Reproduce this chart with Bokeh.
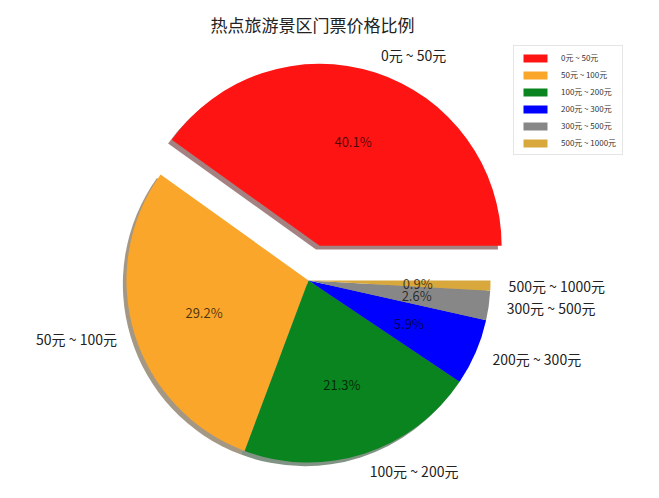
import numpy as np
from bokeh.plotting import figure
from bokeh.models import Range1d, Legend, LegendItem, Label, ColumnDataSource
from bokeh.core.properties import value
from bokeh.embed import file_html
from bokeh.resources import INLINE

# ---- data ----
title_text = "热点旅游景区门票价格比例"
categories = ["0元 ~ 50元", "50元 ~ 100元", "100元 ~ 200元",
              "200元 ~ 300元", "300元 ~ 500元", "500元 ~ 1000元"]
shares = [40.1, 29.2, 21.3, 5.9, 2.6, 0.9]
explode = [0.2, 0.0, 0.0, 0.0, 0.0, 0.0]

# ---- style / layout ----
colors = ["#ff1414", "#f9a62b", "#0a841e", "#0000ff", "#878787", "#d8a83c"]
W, H = 659, 498
CX, CY, R = 308, 280, 182          # pie centre / radius in pixels
FONT = "Noto Sans CJK SC"

fr = np.array(shares) / sum(shares)
ends = 2 * np.pi * np.cumsum(fr)
starts = ends - 2 * np.pi * fr
mids = (starts + ends) / 2
ex = np.array(explode)
ox = ex * np.cos(mids)
oy = ex * np.sin(mids)

def shade(c):
    c = c.lstrip("#")
    rgb = [int(c[i:i + 2], 16) for i in (0, 2, 4)]
    return "#%02x%02x%02x" % tuple(int(0.3 * v) for v in rgb)

src = ColumnDataSource(dict(
    x=ox, y=oy, sx=ox - 0.02, sy=oy - 0.02,
    start=starts, end=ends, color=colors,
    scolor=[shade(c) for c in colors],
    lx=ox + 1.1 * np.cos(mids), ly=oy + 1.1 * np.sin(mids),
    lalign=["left" if np.cos(m) >= 0 else "right" for m in mids],
    px=ox + 0.6 * np.cos(mids), py=oy + 0.6 * np.sin(mids),
    label=categories,
    pct=["%.1f%%" % (100 * f) for f in fr],
))

p = figure(width=W, height=H, output_backend="svg", toolbar_location=None,
           x_range=Range1d(-CX / R, (W - CX) / R),
           y_range=Range1d((CY - H) / R, CY / R),
           x_axis_location=None, y_axis_location=None,
           min_border=0, outline_line_color=None)
p.grid.visible = False
p.background_fill_color = "white"
p.border_fill_color = "white"

p.wedge(x="sx", y="sy", radius=1, start_angle="start", end_angle="end",
        fill_color="scolor", fill_alpha=0.5, line_color=None, source=src)
wr = p.wedge(x="x", y="y", radius=1, start_angle="start", end_angle="end",
             fill_color="color", line_color=None, source=src)

p.text(x="lx", y="ly", text="label", text_align="lalign", text_baseline="middle",
       text_font=value(FONT), text_font_size="14px", text_color="#222222", source=src)
p.text(x="px", y="py", text="pct", text_align="center", text_baseline="middle",
       text_font=value(FONT), text_font_size="13px", text_color="black",
       text_alpha=0.7, source=src)

p.add_layout(Label(x=312, y=H - 24, x_units="screen", y_units="screen",
                   text=title_text, text_align="center", text_baseline="middle",
                   text_font=FONT, text_font_size="17px", text_color="#222222"))

items = [LegendItem(label=c, renderers=[wr], index=i) for i, c in enumerate(categories)]
legend = Legend(items=items, location=(513, H - 155),
                glyph_width=30, glyph_height=10, label_height=10, spacing=6,
                padding=6, margin=0, label_standoff=11,
                label_text_font=FONT, label_text_font_size="8px",
                label_text_color="#333333",
                border_line_color="#cccccc", background_fill_color="white",
                background_fill_alpha=1.0)
p.add_layout(legend)

open("out.html", "w").write(file_html(p, INLINE))
